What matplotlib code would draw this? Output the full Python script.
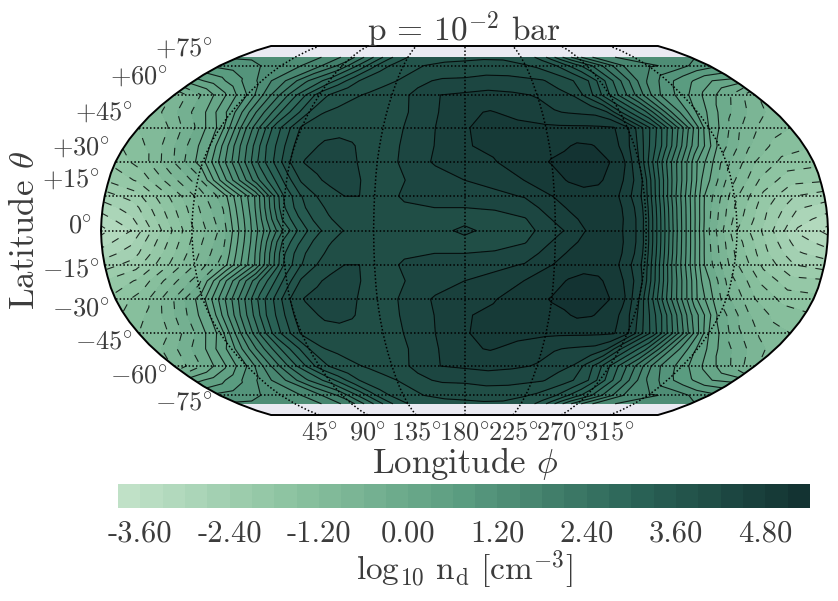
import numpy as np
import matplotlib
matplotlib.use("Agg")
import matplotlib.pyplot as plt
from matplotlib.colors import LinearSegmentedColormap
from matplotlib.patches import Polygon

plt.rcParams["font.family"] = ["cmr10", "DejaVu Sans"]
plt.rcParams["mathtext.fontset"] = "cm"
plt.rcParams["axes.formatter.use_mathtext"] = True
TEXT = "#3c3c3c"

# Robinson projection table
rob_lat = np.arange(0, 95, 5)
rob_plen = [1, .9986, .9954, .99, .9822, .973, .96, .9427, .9216, .8962,
            .8679, .835, .7986, .7597, .7186, .6732, .6213, .5722, .5322]
rob_pdfe = [0, .062, .124, .186, .248, .31, .372, .434, .4958, .5571,
            .6176, .6769, .7346, .7903, .8435, .8936, .9394, .9761, 1.0]

def robinson(lon, lat):
    lon = np.asarray(lon, float)
    lat = np.asarray(lat, float)
    x = np.interp(np.abs(lat), rob_lat, rob_plen) * (lon - 180) / 180
    y = np.sign(lat) * np.interp(np.abs(lat), rob_lat, rob_pdfe)
    return x, y

# log10 n_d, upper hemisphere (map is mirrored about the equator)
lons = [0, 15, 30, 45, 60, 75, 90, 97.5, 105, 112.5, 120, 127.5, 135, 150, 165, 180, 195, 210, 225,
        232.5, 240, 247.5, 255, 262.5, 270, 285, 300, 315, 330, 345, 360]
lat_rows = [0, 5, 10, 15, 22, 30, 37, 45, 52, 60, 67, 75, 80]
nd_0 = [-3.4, -3.0, -2.1, -1.25, -.5, .95, 2.4, 3.02, 3.45, 3.72, 3.9, 3.98, 4.0, 4.05, 4.12, 4.25, 4.12, 4.1, 4.4,
        4.58, 4.8, 4.88, 4.88, 4.7, 4.08, 1.85, -.2, -1.5, -2.25, -3.05, -3.4]
nd_5 = [-3.15, -2.75, -1.95, -1.15, -.4, 1.0, 2.75, 3.25, 3.62, 3.87, 4.0, 4.04, 4.03, 4.08, 4.1, 4.13, 4.13, 4.18, 4.55,
        4.72, 4.88, 4.95, 4.9, 4.7, 4.1, 1.85, -.15, -1.35, -2.15, -2.85, -3.15]
nd_10 = [-2.85, -2.55, -1.8, -1.05, -.28, 1.1, 2.95, 3.45, 3.78, 3.95, 4.1, 4.12, 4.08, 4.18, 4.2, 4.2, 4.22, 4.35, 4.68,
         4.85, 4.98, 4.98, 4.92, 4.65, 4.1, 1.88, -.1, -1.25, -2.05, -2.65, -2.85]
nd_15 = [-2.55, -2.25, -1.6, -.9, -.1, 1.2, 3.05, 3.55, 3.87, 4.08, 4.2, 4.2, 4.12, 4.22, 4.27, 4.33, 4.42, 4.52, 4.82,
         4.95, 5.0, 4.98, 4.9, 4.55, 4.1, 1.9, 0, -1.1, -1.9, -2.4, -2.55]
nd_22 = [-2.05, -1.75, -1.1, -.45, .95, 2.3, 3.45, 3.95, 4.15, 4.28, 4.3, 4.2, 4.1, 4.2, 4.32, 4.5, 4.6, 4.8, 5.0,
         5.12, 5.18, 5.15, 5.0, 4.72, 4.2, 2.1, .3, -.8, -1.55, -2.0, -2.05]
nd_30 = [-1.7, -1.3, -.6, .2, 1.5, 2.85, 3.9, 4.22, 4.3, 4.32, 4.28, 4.15, 4.08, 4.25, 4.55, 4.65, 4.78, 4.95, 5.12,
         5.2, 5.25, 5.2, 5.1, 4.82, 4.2, 2.3, .6, -.5, -1.2, -1.6, -1.7]
nd_37 = [-1.45, -1.1, -.45, .3, 1.7, 3.0, 3.92, 4.1, 4.25, 4.28, 4.23, 4.12, 4.08, 4.25, 4.52, 4.78, 4.85, 4.9, 5.02,
         5.05, 5.15, 5.12, 5.0, 4.78, 4.35, 2.95, 1.25, -.1, -.85, -1.3, -1.45]
nd_45 = [-1.2, -.95, -.35, .4, 1.85, 3.1, 3.95, 4.03, 4.08, 4.1, 4.08, 4.05, 4.05, 4.25, 4.52, 4.78, 4.88, 4.88, 4.86,
         4.85, 4.85, 4.85, 4.84, 4.82, 4.55, 3.4, 1.9, .3, -.5, -1.0, -1.2]
nd_52 = [-1.05, -.55, 0, .75, 1.85, 2.8, 3.6, 3.88, 3.96, 4.0, 4.03, 4.07, 4.1, 4.22, 4.5, 4.75, 4.82, 4.72, 4.58,
         4.52, 4.48, 4.45, 4.42, 4.22, 3.65, 2.75, 1.5, .55, -.15, -.65, -1.05]
nd_60 = [-.85, -.35, .2, .9, 1.8, 2.65, 3.45, 3.65, 3.75, 3.87, 3.93, 4.0, 4.08, 4.25, 4.5, 4.55, 4.6, 4.55, 4.48,
         4.38, 4.28, 4.18, 3.82, 3.45, 3.0, 2.15, 1.25, .75, .2, -.3, -.85]
nd_67 = [.2, .45, .85, 1.3, 1.77, 2.37, 2.85, 3.15, 3.45, 3.68, 3.76, 3.83, 3.9, 4.15, 4.24, 4.25, 4.3, 4.3, 4.25,
         4.22, 4.1, 4.0, 3.85, 3.6, 3.2, 2.35, 1.55, 1.0, .65, .3, .2]
nd_75 = [1.0, 1.1, 1.2, 1.3, 1.5, 1.8, 2.2, 2.55, 2.85, 3.2, 3.5, 3.65, 3.75, 3.9, 3.97, 4.0, 4.03, 4.0, 3.92,
         3.85, 3.75, 3.6, 3.35, 3.1, 2.85, 2.25, 1.68, 1.55, 1.45, 1.2, 1.0]
nd_80 = [1.25, 1.25, 1.25, 1.3, 1.4, 1.65, 2.0, 2.3, 2.6, 2.9, 3.2, 3.45, 3.6, 3.75, 3.8, 3.82, 3.85, 3.85, 3.75,
         3.68, 3.5, 3.2, 2.85, 2.5, 2.2, 1.7, 1.5, 1.4, 1.3, 1.25, 1.25]

level_ticks = [-3.6, -2.4, -1.2, 0.0, 1.2, 2.4, 3.6, 4.8]
levels = np.arange(32) * 0.3 - 3.9
lat_ticks = [75, 60, 45, 30, 15, 0, -15, -30, -45, -60, -75]
lon_ticks = [45, 90, 135, 180, 225, 270, 315]
cmap_colors = ["#c3e3ca", "#8cc3a0", "#5a9c80", "#2a6357", "#11302f"]

upper = np.array([nd_0, nd_5, nd_10, nd_15, nd_22, nd_30, nd_37, nd_45, nd_52, nd_60, nd_67, nd_75, nd_80])
field = np.vstack([upper[:0:-1], upper])
lat_all = np.array([-v for v in lat_rows[:0:-1]] + lat_rows)
# wrap one column each side, the boundary path clips it
field = np.hstack([field[:, -2:-1], field, field[:, 1:2]])
lon_all = np.array([lons[-2] - 360] + lons + [lons[1] + 360])
LON, LAT = np.meshgrid(lon_all, lat_all)
X, Y = robinson(LON, LAT)

W, H = 838, 601
fig = plt.figure(figsize=(W / 100, H / 100), dpi=100)
ax = fig.add_axes([101 / W, 1 - 415 / H, 727 / W, 369 / H])
ax.set_xlim(-1, 1)
ax.set_ylim(-1, 1)
ax.axis("off")

edge_lat = np.linspace(-90, 90, 181)
xl, yl = robinson(np.zeros_like(edge_lat), edge_lat)
xr, yr = robinson(np.full_like(edge_lat, 360), edge_lat)
outline = np.vstack([np.c_[xl, yl], np.c_[xr, yr][::-1]])
bg = Polygon(outline, closed=True, facecolor="#eaeaf2", edgecolor="none", zorder=0)
ax.add_patch(bg)

cmap = LinearSegmentedColormap.from_list("nd", cmap_colors)
cf = ax.contourf(X, Y, field, levels=levels, cmap=cmap, zorder=1)
cf.set_clip_path(bg)
cl = ax.contour(X, Y, field, levels=levels, colors="k", linewidths=0.8, alpha=0.8,
                negative_linestyles=(0, (7, 8)), zorder=2)
cl.set_clip_path(bg)

# graticule
dots = (0, (1, 1.4))
for lat in lat_ticks:
    gx, gy = robinson(np.array([0, 360]), np.array([lat, lat]))
    ax.plot(gx, gy, color="k", lw=1.1, ls=dots, zorder=3)
for lon in lon_ticks:
    gx, gy = robinson(np.full_like(edge_lat, lon), edge_lat)
    ax.plot(gx, gy, color="k", lw=1.1, ls=dots, zorder=3)
ax.add_patch(Polygon(outline, closed=True, fill=False, edgecolor="k", lw=1.4, zorder=4, clip_on=False))

def px_text(x, y, s, size, **kw):
    fig.text(x / W, 1 - y / H, s, fontsize=size, color=TEXT, **kw)

lat_label_x = [213, 168, 133, 110, 100, 92, 100, 110, 133, 168, 213]
lat_label_y = [49, 77, 113, 148, 180, 227, 271, 310, 343, 377, 404]
for lat, lx, ly in zip(lat_ticks, lat_label_x, lat_label_y):
    sign = "" if lat == 0 else ("+" if lat > 0 else "-")
    px_text(lx, ly, f"${sign}{abs(lat)}\\!^\\circ$", 19, ha="right", va="center")
for lon in lon_ticks:
    lx = 464.5 + (lon - 180) / 180 * 363.5 * rob_plen[-1]
    px_text(lx, 434, f"${lon}\\!^\\circ$", 19, ha="center", va="center")

px_text(464, 30, r"p = $10^{-2}$ bar", 24, ha="center", va="center")
px_text(465, 464, r"Longitude $\phi$", 25, ha="center", va="center")
px_text(25, 230, r"Latitude $\theta$", 25, ha="center", va="center", rotation=90)

cax = fig.add_axes([118 / W, 1 - 508 / H, 692 / W, 24 / H])
cb = fig.colorbar(cf, cax=cax, orientation="horizontal", ticks=level_ticks)
cb.outline.set_visible(False)
cb.ax.tick_params(length=0, pad=9)
cb.ax.set_xticklabels([f"{v:.2f}" for v in level_ticks], fontsize=22, color=TEXT)
px_text(464, 570, r"$\log_{10}\,\mathrm{n_d}\,\,[\mathrm{cm}^{-3}]$", 24, ha="center", va="center")

fig.savefig("out.png", dpi=100)
